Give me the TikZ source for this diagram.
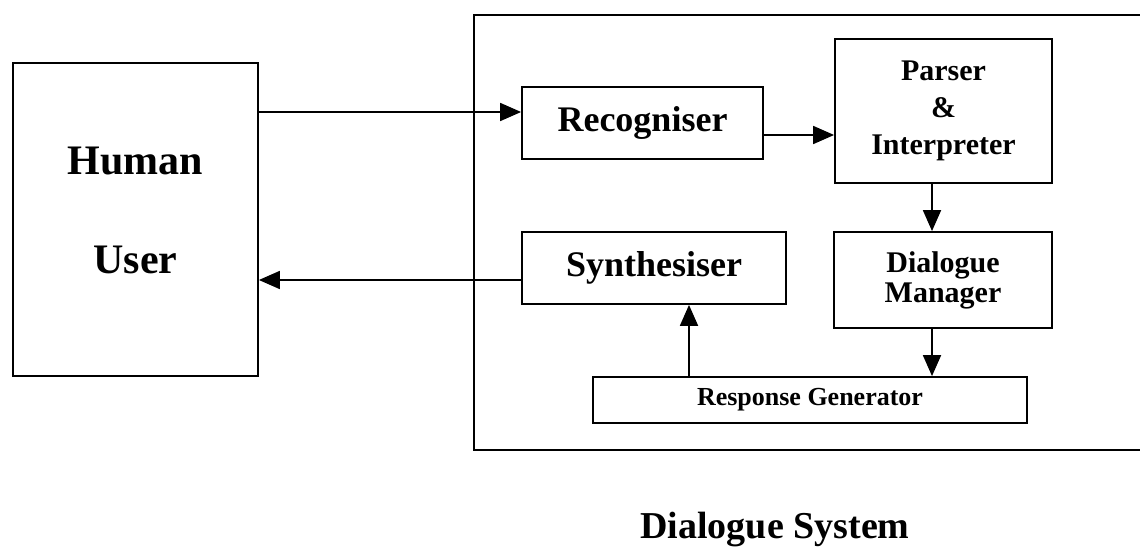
\documentclass[tikz,border=0pt]{standalone}
\usepackage{fontspec}
\setmainfont{Liberation Serif}
\usetikzlibrary{arrows.meta}
\begin{document}
\begin{tikzpicture}[x=1pt,y=-1pt,
  box/.style={draw, line width=1.8pt, inner sep=0pt, align=center},
  arr/.style={line width=1.8pt, -{Triangle[length=21pt,width=18pt]}},
  bigtext/.style={font=\bfseries\fontsize{42pt}{50pt}\selectfont},
  midtext/.style={font=\bfseries\fontsize{36pt}{42pt}\selectfont},
  smalltext/.style={font=\bfseries\fontsize{30pt}{37pt}\selectfont},
  tinytext/.style={font=\bfseries\fontsize{26pt}{30pt}\selectfont},
]
\useasboundingbox (0,0) rectangle (1140,548);
\clip (0,0) rectangle (1140,548);

% system frame, open on the right
\node[box, minimum width=686pt, minimum height=435pt] (system) at (817,232.5) {};

% blocks
\node[box, minimum width=245pt, minimum height=313pt] (human) at (135.5,219.5) {};
\node[bigtext, align=center, inner sep=0pt] (humanlabel) at (135.5,210.5) {Human\\[49pt]User};
\node[box, midtext, minimum width=241pt, minimum height=72pt] (rec) at (642.5,123) {Recogniser};
\node[box, smalltext, minimum width=217pt, minimum height=144pt] (parser) at (943.5,111) {Parser\\\&\\Interpreter};
\node[box, midtext, minimum width=264pt, minimum height=72pt] (synth) at (654,268) {Synthesiser};
\node[box, font=\bfseries\fontsize{30pt}{30pt}\selectfont, minimum width=218pt, minimum height=96pt] (dm) at (943,280) {Dialogue\\Manager};
\node[box, tinytext, minimum width=434pt, minimum height=46pt] (rg) at (810,400) {Response Generator};

% caption
\node[font=\bfseries\fontsize{38pt}{44pt}\selectfont, inner sep=0pt, anchor=base] (caption) at (775,538) {Dialogue System};

% connectors
\draw[arr] (human.east |- 0,112) -- (rec.west |- 0,112);
\draw[arr] (rec.east |- 0,135) -- (parser.west |- 0,135);
\draw[arr] (parser.south -| 932,0) -- (dm.north -| 932,0);
\draw[arr] (dm.south -| 932,0) -- (rg.north -| 932,0);
\draw[arr] (rg.north -| 689,0) -- (synth.south -| 689,0);
\draw[arr] (synth.west |- 0,280) -- (human.east |- 0,280);
\end{tikzpicture}
\end{document}
